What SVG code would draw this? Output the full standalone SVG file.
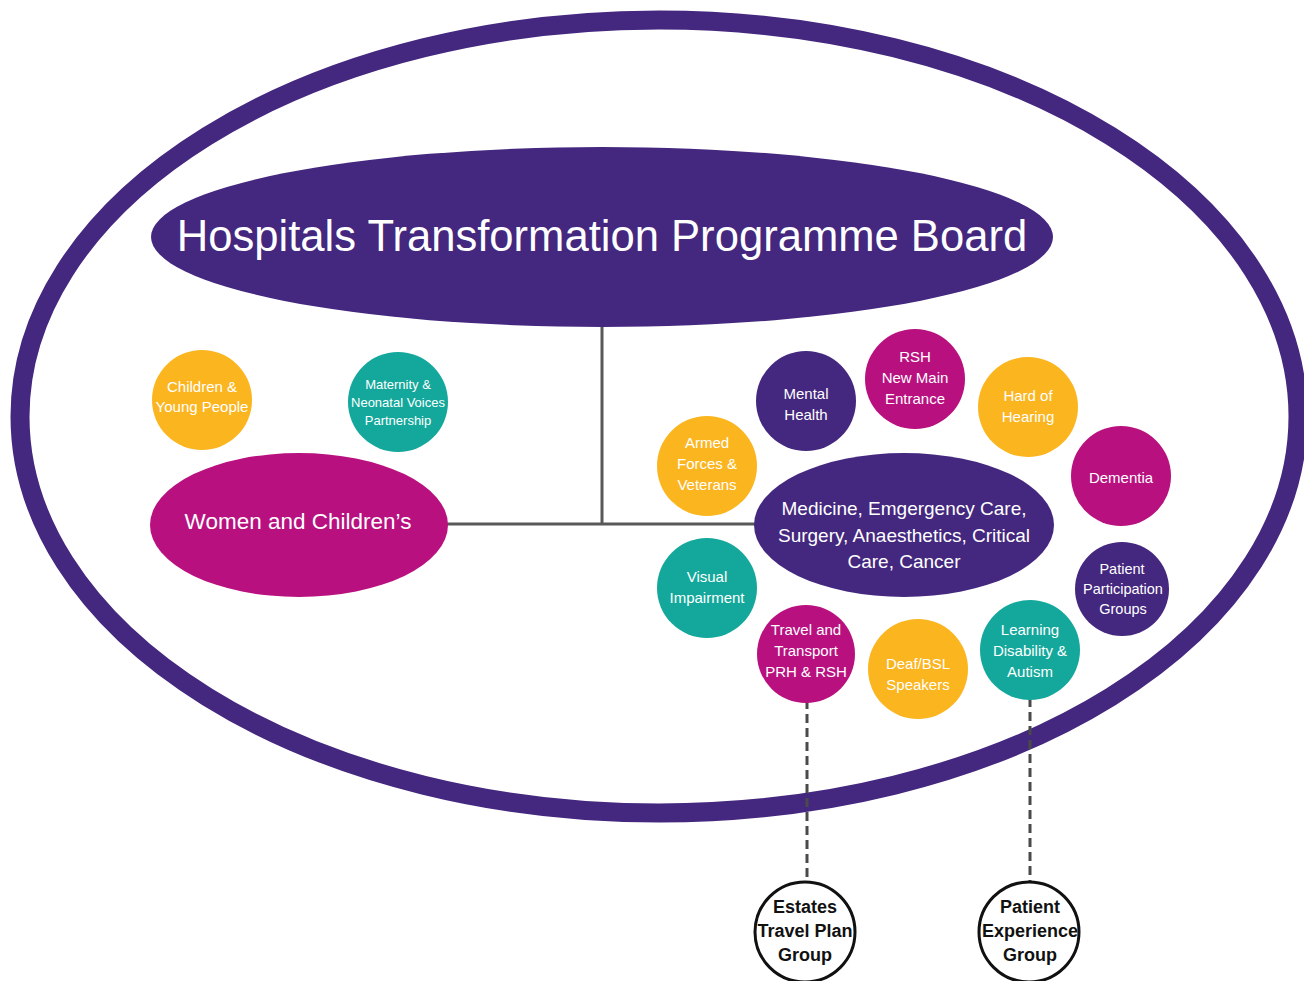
<svg xmlns="http://www.w3.org/2000/svg" width="1304" height="981" viewBox="0 0 1304 981">
<style>
.pu{fill:#44277e}.mg{fill:#b9107f}.ye{fill:#fbb51f}.te{fill:#13a89b}
text{font-family:"Liberation Sans",Arial,sans-serif;fill:#fff;text-anchor:middle}
.s{font-size:15px}.xs{font-size:13px}.m{font-size:19px}
.b{font-size:18px;font-weight:bold;fill:#111}
.grp{fill:#fff;stroke:#111;stroke-width:3}
.ln{stroke:#595959;stroke-width:3;fill:none}
.dl{stroke:#4a4a4a;stroke-width:3;fill:none;stroke-dasharray:9 5}
</style>
<rect width="1304" height="981" fill="#fff"/>
<g id="frame"><ellipse cx="659" cy="416.5" rx="639" ry="396.5" fill="none" stroke="#44277e" stroke-width="19"/></g>
<g id="connectors">
<line class="ln" x1="602" y1="320" x2="602" y2="524"/>
<line class="ln" x1="440" y1="524" x2="765" y2="524"/>
<line class="dl" x1="807" y1="700" x2="807" y2="884"/>
<line class="dl" x1="1030" y1="698" x2="1030" y2="884"/>
</g>
<g id="board"><ellipse class="pu" cx="602" cy="237" rx="451" ry="90"/><text x="602" y="251" style="font-size:43.6px">Hospitals Transformation Programme Board</text></g>
<g id="women"><ellipse class="mg" cx="299" cy="525" rx="149" ry="72"/><text x="298" y="529" style="font-size:22.5px">Women and Children’s</text></g>
<g id="children"><circle class="ye" cx="202" cy="400" r="50"/><text class="s" x="202" y="392">Children &amp;</text><text class="s" x="202" y="412">Young People</text></g>
<g id="maternity"><circle class="te" cx="398" cy="402" r="50"/><text class="xs" x="398" y="389">Maternity &amp;</text><text class="xs" x="398" y="407">Neonatal Voices</text><text class="xs" x="398" y="425">Partnership</text></g>
<g id="medicine"><ellipse class="pu" cx="904" cy="525" rx="150" ry="72"/><text class="m" x="904" y="515">Medicine, Emgergency Care,</text><text class="m" x="904" y="542">Surgery, Anaesthetics, Critical</text><text class="m" x="904" y="568">Care, Cancer</text></g>
<g id="mental"><circle class="pu" cx="806" cy="401" r="50"/><text class="s" x="806" y="399">Mental</text><text class="s" x="806" y="420">Health</text></g>
<g id="rsh"><circle class="mg" cx="915" cy="379" r="50"/><text class="s" x="915" y="362">RSH</text><text class="s" x="915" y="383">New Main</text><text class="s" x="915" y="404">Entrance</text></g>
<g id="hearing"><circle class="ye" cx="1028" cy="407" r="50"/><text class="s" x="1028" y="401">Hard of</text><text class="s" x="1028" y="422">Hearing</text></g>
<g id="dementia"><circle class="mg" cx="1121" cy="476" r="50"/><text class="s" x="1121" y="483">Dementia</text></g>
<g id="armed"><circle class="ye" cx="707" cy="466" r="50"/><text class="s" x="707" y="448">Armed</text><text class="s" x="707" y="469">Forces &amp;</text><text class="s" x="707" y="490">Veterans</text></g>
<g id="visual"><circle class="te" cx="707" cy="588" r="50"/><text class="s" x="707" y="582">Visual</text><text class="s" x="707" y="603">Impairment</text></g>
<g id="participation"><circle class="pu" cx="1122" cy="589" r="47"/><text x="1122" y="574" style="font-size:14.5px">Patient</text><text x="1123" y="594" style="font-size:14.5px">Participation</text><text x="1123" y="614" style="font-size:14.5px">Groups</text></g>
<g id="travel"><circle class="mg" cx="806" cy="654" r="49"/><text class="s" x="806" y="635">Travel and</text><text class="s" x="806" y="656">Transport</text><text class="s" x="806" y="677">PRH &amp; RSH</text></g>
<g id="deaf"><circle class="ye" cx="918" cy="669" r="50"/><text class="s" x="918" y="669">Deaf/BSL</text><text class="s" x="918" y="690">Speakers</text></g>
<g id="learning"><circle class="te" cx="1030" cy="650" r="50"/><text class="s" x="1030" y="635">Learning</text><text class="s" x="1030" y="656">Disability &amp;</text><text class="s" x="1030" y="677">Autism</text></g>
<g id="estates"><circle class="grp" cx="805" cy="932" r="50"/><text class="b" x="805" y="913">Estates</text><text class="b" x="805" y="937">Travel Plan</text><text class="b" x="805" y="961">Group</text></g>
<g id="experience"><circle class="grp" cx="1029" cy="932" r="50"/><text class="b" x="1030" y="913">Patient</text><text class="b" x="1030" y="937">Experience</text><text class="b" x="1030" y="961">Group</text></g>
</svg>
